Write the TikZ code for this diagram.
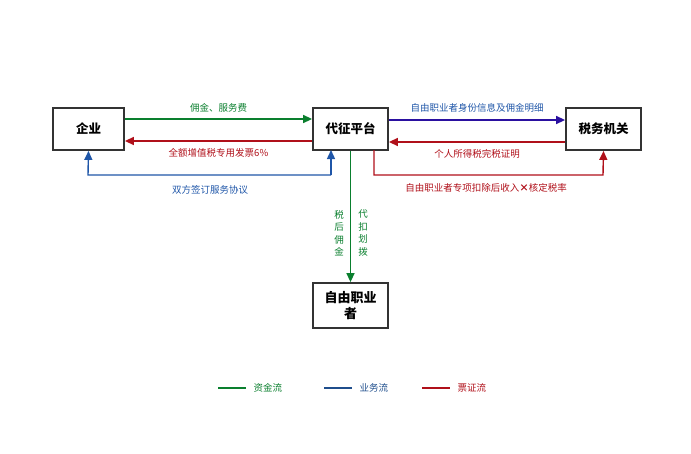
\documentclass[tikz,border=0pt]{standalone}
\usepackage{fontspec}
\setmainfont{Noto Sans CJK SC}
\usetikzlibrary{arrows.meta}
\definecolor{gr}{HTML}{0A7F2E}
\definecolor{rd}{HTML}{B0101A}
\definecolor{bl}{HTML}{1F56A8}
\definecolor{pu}{HTML}{2A10A0}
\definecolor{lb}{HTML}{1F4E8C}
\begin{document}
\begin{tikzpicture}[x=1pt,y=-1pt,
 box/.style={draw=black!80,line width=1.8pt,fill=white,minimum height=42pt,font=\fontsize{12.5}{15}\selectfont\bfseries,align=center},
 lbl/.style={font=\fontsize{9.5}{10}\selectfont},
 vlbl/.style={font=\fontsize{9.5}{12.5}\selectfont,align=center},
 arr/.style={line width=1.4pt,-{Triangle[length=9pt,width=8pt]}}]
\useasboundingbox (0,0) rectangle (691,453);
\node[box,minimum width=71pt] (qy) at (88.5,129) {企业};
\node[box,minimum width=75pt] (pt) at (350.5,129) {代征平台};
\node[box,minimum width=75pt] (sw) at (603.5,129) {税务机关};
\node[box,minimum width=75pt,minimum height=45pt,font=\fontsize{13}{16}\selectfont\bfseries] (zy) at (350.5,305.5) {自由职业\\者};
\draw[arr,gr] (qy.east|-0,119) -- (pt.west|-0,119) node[midway,above=3pt,lbl,text=gr]{佣金、服务费};
\draw[arr,rd] (pt.west|-0,141) -- (qy.east|-0,141) node[midway,below=3pt,lbl,text=rd]{全额增值税专用发票6\%};
\draw[arr,bl] (331,175) -- (331,150);
\draw[arr,bl] (331,175) -- (88,175) -- (qy.south);
\node[lbl,text=bl] (l1) at (210,190) {双方签订服务协议};
\draw[arr,pu] (pt.east|-0,120) -- (sw.west|-0,120) node[midway,above=4pt,lbl,text=bl]{自由职业者身份信息及佣金明细};
\draw[arr,rd] (sw.west|-0,142) -- (pt.east|-0,142) node[midway,below=3pt,lbl,text=rd]{个人所得税完税证明};
\draw[arr,rd] (374,150) -- (374,175) -- (603,175) -- (sw.south);
\node[lbl,text=rd] (l2) at (486,188) {自由职业者专项扣除后收入\textbf{×}核定税率};
\draw[arr,gr] (pt.south) -- (zy.north);
\node[vlbl,text=gr] (l3) at (339,233) {税\\后\\佣\\金};
\node[vlbl,text=gr] (l4) at (363,233) {代\\扣\\划\\拨};
\foreach \x/\c/\t in {218/gr/资金流,324/lb/业务流,422/rd/票证流}{
 \draw[\c,line width=1.4pt] (\x,388) -- (\x+28,388);
 \node[lbl,text=\c,anchor=west] at (\x+32,388) {\t};
}
\end{tikzpicture}
\end{document}
